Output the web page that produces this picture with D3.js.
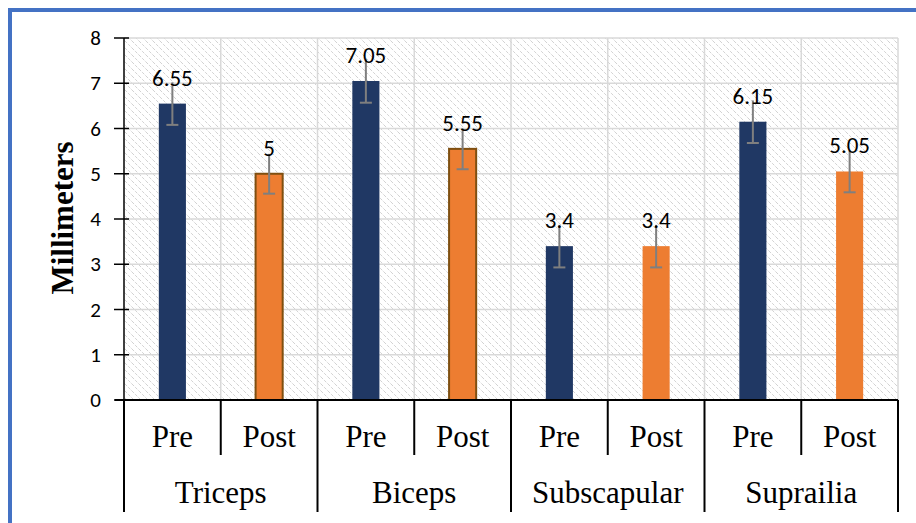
<!DOCTYPE html>
<html><head><meta charset="utf-8">
<script src="https://cdn.jsdelivr.net/npm/d3@7"></script>
<style>body{margin:0;background:#fff}svg{display:block}</style>
</head><body>
<svg id="c" width="916" height="523"></svg>
<script>
const groups = ["Triceps","Biceps","Subscapular","Suprailia"];
const phases = ["Pre","Post"];
const values = [6.55, 5, 7.05, 5.55, 3.4, 3.4, 6.15, 5.05];
const errors = [0.47, 0.44, 0.48, 0.45, 0.47, 0.47, 0.47, 0.46];
const labels = ["6.55","5","7.05","5.55","3.4","3.4","6.15","5.05"];
const yTicks = [0,1,2,3,4,5,6,7,8];

const svg = d3.select("#c");
const L = 124, R = 898, T = 38, B = 400;
const cats = [];
groups.forEach(g => phases.forEach(p => cats.push(g + "|" + p)));

const x = d3.scaleBand().domain(cats).range([L, R]).paddingInner(0).paddingOuter(0);
const y = d3.scaleLinear().domain([0, 8]).range([B, T]);
const serif = "'Liberation Serif', 'Times New Roman', serif";
const sans = "Carlito, Lato, sans-serif";

// frame
svg.append("path").attr("d", "M10,523 L10,10 L916,10").attr("fill", "none")
  .attr("stroke", "#4472C4").attr("stroke-width", 4);

// hatch pattern
const defs = svg.append("defs");
const pat = defs.append("pattern").attr("id", "hatch").attr("patternUnits", "userSpaceOnUse")
  .attr("width", 7).attr("height", 7);
pat.append("rect").attr("width", 7).attr("height", 7).attr("fill", "#fff");
pat.append("path").attr("d", "M-1,-1 L8,8 M-1,6 L1,8 M6,-1 L8,1").attr("stroke", "#d2d2d2").attr("stroke-width", 1).attr("stroke-dasharray","3,1.5");
svg.append("rect").attr("x", L).attr("y", T).attr("width", R - L).attr("height", B - T).attr("fill", "url(#hatch)");

// grid
svg.append("g").selectAll("line").data(yTicks.slice(1)).join("line")
  .attr("x1", L).attr("x2", R).attr("y1", d => y(d)).attr("y2", d => y(d))
  .attr("stroke", "#d9d9d9").attr("stroke-width", 1.5);
svg.append("g").selectAll("line").data(cats.slice(1).concat(["end"])).join("line")
  .attr("x1", d => d === "end" ? R : x(d)).attr("x2", d => d === "end" ? R : x(d))
  .attr("y1", T).attr("y2", B).attr("stroke", "#d9d9d9").attr("stroke-width", 1.5);

// bars
const bw = x.bandwidth() * 0.28;
svg.append("g").selectAll("rect").data(cats).join("rect")
  .attr("x", d => x(d) + x.bandwidth() / 2 - bw / 2)
  .attr("y", (d, i) => y(values[i]))
  .attr("width", bw)
  .attr("height", (d, i) => B - y(values[i]))
  .attr("fill", (d, i) => i % 2 === 0 ? "#203864" : "#ED7D31")
  .attr("stroke", (d, i) => (i === 1 || i === 3) ? "#7F4F10" : "none")
  .attr("stroke-width", 2);

// error bars
const eg = svg.append("g").attr("stroke", "#7f7f7f").attr("stroke-width", 2);
cats.forEach((c, i) => {
  const cx = x(c) + x.bandwidth() / 2;
  const y1 = y(values[i] + errors[i]), y2 = y(values[i] - errors[i]);
  eg.append("line").attr("x1", cx).attr("x2", cx).attr("y1", y1).attr("y2", y2);
  eg.append("line").attr("x1", cx - 6).attr("x2", cx + 6).attr("y1", y2).attr("y2", y2);
});

// data labels
svg.append("g").selectAll("text").data(cats).join("text")
  .attr("x", d => x(d) + x.bandwidth() / 2)
  .attr("y", (d, i) => y(values[i]) - 18)
  .attr("text-anchor", "middle")
  .attr("font-family", sans).attr("font-size", 23)
  .attr("fill", "#000").text((d, i) => labels[i]);

// y axis
const ya = svg.append("g");
ya.append("line").attr("x1", L).attr("x2", L).attr("y1", T).attr("y2", B).attr("stroke", "#000").attr("stroke-width", 1.5);
ya.selectAll(".tk").data(yTicks).join("line").attr("class", "tk")
  .attr("x1", L - 10).attr("x2", L + 5).attr("y1", d => y(d)).attr("y2", d => y(d))
  .attr("stroke", "#000").attr("stroke-width", 1.5);
ya.selectAll("text").data(yTicks).join("text")
  .attr("x", 101).attr("y", d => y(d) + 7).attr("text-anchor", "end")
  .attr("font-family", sans).attr("font-size", 21).text(d => d);

svg.append("text").attr("transform", "translate(73,218) rotate(-90)")
  .attr("text-anchor", "middle").attr("font-family", serif)
  .attr("font-weight", "bold").attr("font-size", 31).text("Millimeters");

// x axis
const xa = svg.append("g").attr("stroke", "#000").attr("stroke-width", 2);
xa.append("line").attr("x1", 115).attr("x2", R).attr("y1", B).attr("y2", B);
cats.forEach((c, i) => {
  const xx = x(c);
  const isGroup = i % 2 === 0;
  xa.append("line").attr("x1", xx).attr("x2", xx).attr("y1", B).attr("y2", isGroup ? 512 : 455);
});
xa.append("line").attr("x1", R).attr("x2", R).attr("y1", B).attr("y2", 512);

svg.append("g").selectAll("text").data(cats).join("text")
  .attr("x", d => x(d) + x.bandwidth() / 2).attr("y", 447)
  .attr("text-anchor", "middle").attr("font-family", serif)
  .attr("font-size", 31).text(d => d.split("|")[1]);
svg.append("g").selectAll("text").data(groups).join("text")
  .attr("x", g => x(g + "|Pre") + x.bandwidth()).attr("y", 503)
  .attr("text-anchor", "middle").attr("font-family", serif)
  .attr("font-size", 31).text(g => g);
</script>
</body></html>
